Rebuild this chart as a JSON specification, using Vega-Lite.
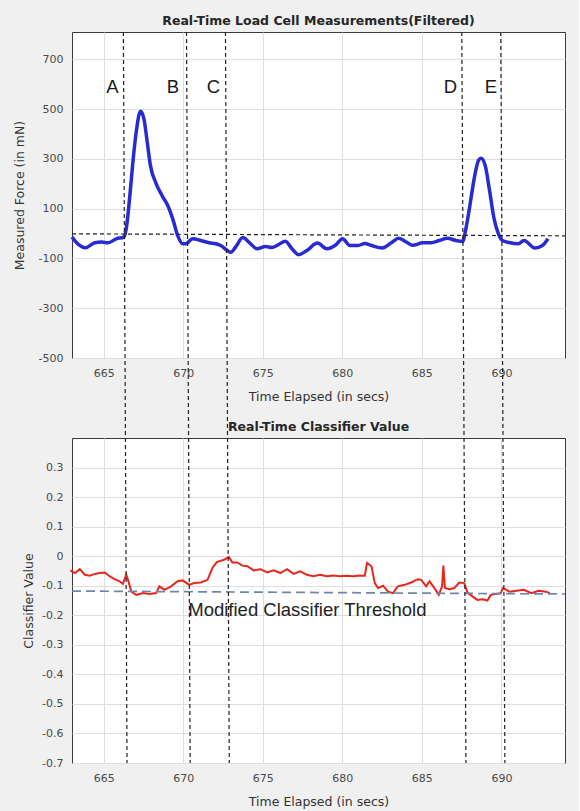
{
  "$schema": "https://vega.github.io/schema/vega-lite/v6.json",
  "background": "#f0f0f0",
  "padding": {"left": 12, "top": 14, "right": 12, "bottom": 4},
  "spacing": 80,
  "bounds": "flush",
  "datasets": {
    "force": [
      {"t": 663.0, "v": -14}, {"t": 663.29, "v": -37}, {"t": 663.85, "v": -57}, {"t": 664.43, "v": -37},
      {"t": 664.85, "v": -34}, {"t": 665.27, "v": -37}, {"t": 665.79, "v": -21}, {"t": 666.27, "v": -14},
      {"t": 666.41, "v": 20}, {"t": 666.62, "v": 140}, {"t": 666.83, "v": 288}, {"t": 667.04, "v": 409},
      {"t": 667.31, "v": 492}, {"t": 667.52, "v": 462}, {"t": 667.73, "v": 368}, {"t": 667.93, "v": 274},
      {"t": 668.29, "v": 201}, {"t": 668.71, "v": 147}, {"t": 669.02, "v": 113}, {"t": 669.33, "v": 60},
      {"t": 669.64, "v": -7}, {"t": 669.96, "v": -41}, {"t": 670.16, "v": -41}, {"t": 670.58, "v": -21},
      {"t": 671.1, "v": -28}, {"t": 671.62, "v": -37}, {"t": 672.04, "v": -41}, {"t": 672.35, "v": -48},
      {"t": 672.98, "v": -75}, {"t": 673.29, "v": -54}, {"t": 673.74, "v": -16}, {"t": 674.12, "v": -34},
      {"t": 674.64, "v": -61}, {"t": 675.16, "v": -52}, {"t": 675.58, "v": -56}, {"t": 675.89, "v": -48},
      {"t": 676.41, "v": -31}, {"t": 676.83, "v": -61}, {"t": 677.24, "v": -85}, {"t": 677.77, "v": -68},
      {"t": 678.43, "v": -38}, {"t": 679.02, "v": -61}, {"t": 679.54, "v": -48}, {"t": 680.02, "v": -21},
      {"t": 680.48, "v": -48}, {"t": 680.99, "v": -48}, {"t": 681.41, "v": -40}, {"t": 681.83, "v": -48},
      {"t": 682.5, "v": -58}, {"t": 683.08, "v": -37}, {"t": 683.55, "v": -19}, {"t": 684.02, "v": -34},
      {"t": 684.43, "v": -47}, {"t": 685.06, "v": -37}, {"t": 685.58, "v": -37}, {"t": 686.1, "v": -28},
      {"t": 686.6, "v": -19}, {"t": 687.14, "v": -28}, {"t": 687.56, "v": -32}, {"t": 687.77, "v": 20},
      {"t": 688.02, "v": 113}, {"t": 688.29, "v": 221}, {"t": 688.56, "v": 294}, {"t": 688.72, "v": 303},
      {"t": 688.98, "v": 274}, {"t": 689.27, "v": 167}, {"t": 689.54, "v": 60}, {"t": 689.81, "v": 0},
      {"t": 690.06, "v": -28}, {"t": 690.48, "v": -36}, {"t": 691.07, "v": -41}, {"t": 691.42, "v": -28},
      {"t": 692.11, "v": -58}, {"t": 692.58, "v": -48}, {"t": 692.93, "v": -21}
    ],
    "classifier": [
      {"t": 662.9, "v": -0.048}, {"t": 663.18, "v": -0.057}, {"t": 663.49, "v": -0.044}, {"t": 663.81, "v": -0.063},
      {"t": 664.12, "v": -0.066}, {"t": 664.43, "v": -0.06}, {"t": 664.74, "v": -0.057}, {"t": 665.06, "v": -0.055},
      {"t": 665.37, "v": -0.068}, {"t": 665.68, "v": -0.078}, {"t": 665.99, "v": -0.085}, {"t": 666.2, "v": -0.094},
      {"t": 666.41, "v": -0.063}, {"t": 666.52, "v": -0.08}, {"t": 666.73, "v": -0.12}, {"t": 667.04, "v": -0.131},
      {"t": 667.46, "v": -0.125}, {"t": 667.87, "v": -0.128}, {"t": 668.29, "v": -0.125}, {"t": 668.49, "v": -0.102},
      {"t": 668.81, "v": -0.114}, {"t": 669.23, "v": -0.102}, {"t": 669.64, "v": -0.085}, {"t": 669.96, "v": -0.082},
      {"t": 670.37, "v": -0.097}, {"t": 670.68, "v": -0.091}, {"t": 671.1, "v": -0.089}, {"t": 671.52, "v": -0.08},
      {"t": 671.83, "v": -0.04}, {"t": 672.1, "v": -0.02}, {"t": 672.56, "v": -0.012}, {"t": 672.87, "v": -0.003},
      {"t": 673.08, "v": -0.021}, {"t": 673.39, "v": -0.021}, {"t": 673.71, "v": -0.032}, {"t": 674.02, "v": -0.034},
      {"t": 674.43, "v": -0.048}, {"t": 674.85, "v": -0.044}, {"t": 675.27, "v": -0.055}, {"t": 675.68, "v": -0.048},
      {"t": 676.1, "v": -0.057}, {"t": 676.52, "v": -0.044}, {"t": 676.93, "v": -0.06}, {"t": 677.35, "v": -0.051},
      {"t": 677.77, "v": -0.063}, {"t": 678.18, "v": -0.068}, {"t": 678.6, "v": -0.063}, {"t": 679.02, "v": -0.068},
      {"t": 679.43, "v": -0.065}, {"t": 679.85, "v": -0.068}, {"t": 680.27, "v": -0.066}, {"t": 680.68, "v": -0.068},
      {"t": 681.1, "v": -0.065}, {"t": 681.41, "v": -0.066}, {"t": 681.55, "v": -0.023}, {"t": 681.83, "v": -0.034},
      {"t": 682.04, "v": -0.091}, {"t": 682.24, "v": -0.108}, {"t": 682.56, "v": -0.1}, {"t": 682.87, "v": -0.12},
      {"t": 683.18, "v": -0.125}, {"t": 683.49, "v": -0.102}, {"t": 683.91, "v": -0.097}, {"t": 684.33, "v": -0.089},
      {"t": 684.74, "v": -0.078}, {"t": 684.96, "v": -0.08}, {"t": 685.27, "v": -0.102}, {"t": 685.48, "v": -0.085},
      {"t": 685.79, "v": -0.108}, {"t": 686.06, "v": -0.131}, {"t": 686.27, "v": -0.102}, {"t": 686.35, "v": -0.032},
      {"t": 686.45, "v": -0.108}, {"t": 686.73, "v": -0.112}, {"t": 687.04, "v": -0.108}, {"t": 687.35, "v": -0.089},
      {"t": 687.66, "v": -0.091}, {"t": 687.87, "v": -0.123}, {"t": 688.18, "v": -0.136}, {"t": 688.49, "v": -0.148},
      {"t": 688.81, "v": -0.146}, {"t": 689.12, "v": -0.15}, {"t": 689.33, "v": -0.131}, {"t": 689.64, "v": -0.128},
      {"t": 689.96, "v": -0.125}, {"t": 690.1, "v": -0.108}, {"t": 690.37, "v": -0.116}, {"t": 690.5, "v": -0.12},
      {"t": 690.96, "v": -0.117}, {"t": 691.42, "v": -0.114}, {"t": 691.88, "v": -0.125}, {"t": 692.34, "v": -0.117},
      {"t": 692.8, "v": -0.12}, {"t": 693.04, "v": -0.125}
    ],
    "events": [
      {"label": "A", "tTop": 666.23, "tMid": 666.36, "tBot": 666.46, "tLabel": 665.54},
      {"label": "B", "tTop": 670.2, "tMid": 670.33, "tBot": 670.43, "tLabel": 669.35},
      {"label": "C", "tTop": 672.65, "tMid": 672.78, "tBot": 672.89, "tLabel": 671.89},
      {"label": "D", "tTop": 687.51, "tMid": 687.65, "tBot": 687.77, "tLabel": 686.79},
      {"label": "E", "tTop": 689.96, "tMid": 690.1, "tBot": 690.22, "tLabel": 689.34}
    ],
    "baselineTop": [{"t0": 663, "t1": 694, "v0": -1, "v1": -9}],
    "threshold": [{"t0": 663, "t1": 694, "v0": -0.118, "v1": -0.128, "text": "Modified Classifier Threshold", "tText": 677.8, "vText": -0.182}]
  },
  "vconcat": [
    {
      "width": 493,
      "height": 326,
      "title": {"text": "Real-Time Load Cell Measurements(Filtered)", "font": "DejaVu Sans", "fontSize": 12.5, "fontWeight": "bold", "color": "#262626", "offset": 4},
      "layer": [
        {
          "data": {"name": "force"},
          "mark": {"type": "line", "color": "#2a2ad2", "strokeWidth": 3.5, "interpolate": "monotone"},
          "encoding": {
            "x": {"field": "t", "type": "quantitative", "scale": {"domain": [663, 694], "nice": false, "zero": false},
                  "axis": {"values": [665, 670, 675, 680, 685, 690], "title": "Time Elapsed (in secs)"}},
            "y": {"field": "v", "type": "quantitative", "scale": {"domain": [-500, 810], "nice": false, "zero": false},
                  "axis": {"values": [-500, -300, -100, 100, 300, 500, 700], "tickCount": 20, "title": "Measured Force (in mN)", "titlePadding": 12}}
          }
        },
        {
          "data": {"name": "baselineTop"},
          "mark": {"type": "rule", "color": "#222222", "strokeWidth": 1.2, "strokeDash": [4, 3]},
          "encoding": {
            "x": {"field": "t0", "type": "quantitative"}, "x2": {"field": "t1"},
            "y": {"field": "v0", "type": "quantitative"}, "y2": {"field": "v1"}
          }
        },
        {
          "data": {"name": "events"},
          "mark": {"type": "rule", "color": "#222222", "strokeWidth": 1.2, "strokeDash": [4, 3]},
          "encoding": {
            "x": {"field": "tTop", "type": "quantitative"}, "x2": {"field": "tMid"},
            "y": {"datum": 810, "type": "quantitative"}, "y2": {"datum": -821.4}
          }
        },
        {
          "data": {"name": "events"},
          "mark": {"type": "text", "font": "Liberation Sans", "fontSize": 18.5, "color": "#1a1a1a", "baseline": "middle", "align": "center"},
          "encoding": {
            "x": {"field": "tLabel", "type": "quantitative"},
            "y": {"datum": 590, "type": "quantitative"},
            "text": {"field": "label"}
          }
        }
      ]
    },
    {
      "width": 493,
      "height": 325,
      "title": {"text": "Real-Time Classifier Value", "font": "DejaVu Sans", "fontSize": 12.5, "fontWeight": "bold", "color": "#262626", "offset": 4},
      "layer": [
        {
          "data": {"name": "classifier"},
          "mark": {"type": "line", "color": "#e8261c", "strokeWidth": 2},
          "encoding": {
            "x": {"field": "t", "type": "quantitative", "scale": {"domain": [663, 694], "nice": false, "zero": false},
                  "axis": {"values": [665, 670, 675, 680, 685, 690], "title": "Time Elapsed (in secs)"}},
            "y": {"field": "v", "type": "quantitative", "scale": {"domain": [-0.7, 0.4], "nice": false, "zero": false},
                  "axis": {"values": [-0.7, -0.6, -0.5, -0.4, -0.3, -0.2, -0.1, 0, 0.1, 0.2, 0.3], "tickCount": 30,
                           "labelExpr": "replace(format(datum.value, '.1~f'), '−', '-')",
                           "title": "Classifier Value", "titlePadding": 6}}
          }
        },
        {
          "data": {"name": "threshold"},
          "mark": {"type": "rule", "color": "#7086a6", "strokeWidth": 1.7, "strokeDash": [9, 5]},
          "encoding": {
            "x": {"field": "t0", "type": "quantitative"}, "x2": {"field": "t1"},
            "y": {"field": "v0", "type": "quantitative"}, "y2": {"field": "v1"}
          }
        },
        {
          "data": {"name": "threshold"},
          "mark": {"type": "text", "font": "Liberation Sans", "fontSize": 18.5, "color": "#222222", "baseline": "middle", "align": "center"},
          "encoding": {
            "x": {"field": "tText", "type": "quantitative"},
            "y": {"field": "vText", "type": "quantitative"},
            "text": {"field": "text"}
          }
        },
        {
          "data": {"name": "events"},
          "mark": {"type": "rule", "color": "#222222", "strokeWidth": 1.2, "strokeDash": [4, 3]},
          "encoding": {
            "x": {"field": "tMid", "type": "quantitative"}, "x2": {"field": "tBot"},
            "y": {"datum": 0.4, "type": "quantitative"}, "y2": {"datum": -0.7}
          }
        }
      ]
    }
  ],
  "config": {
    "view": {"stroke": "#3a3a3a", "strokeWidth": 1, "fill": "#ffffff"},
    "axis": {
      "ticks": false,
      "domain": false,
      "grid": true,
      "gridColor": "#dedede",
      "gridWidth": 1,
      "labelFont": "DejaVu Sans",
      "labelFontSize": 11,
      "labelColor": "#4a4a4a",
      "labelPadding": 9,
      "labelOverlap": false,
      "labelExpr": "replace(datum.label, '−', '-')",
      "titleFont": "DejaVu Sans",
      "titleFontSize": 12.5,
      "titleFontWeight": "normal",
      "titleColor": "#333333"
    },
    "axisX": {"titlePadding": 12}
  }
}
